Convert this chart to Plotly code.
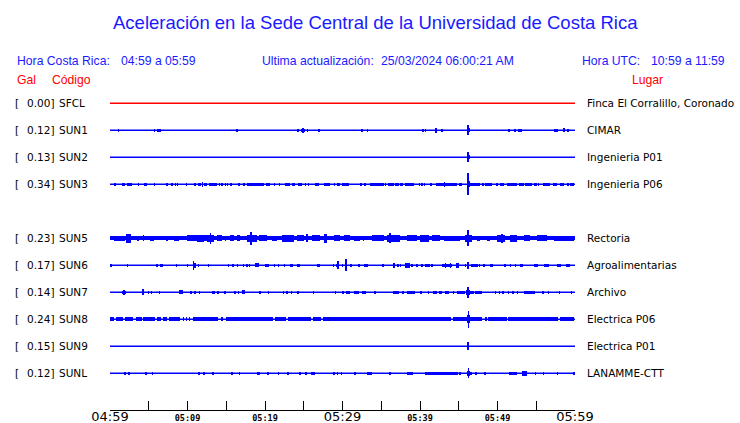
import plotly.graph_objects as go

# ---------------- data ----------------
CODES = ["SFCL", "SUN1", "SUN2", "SUN3", "SUN5", "SUN6", "SUN7", "SUN8", "SUN9", "SUNL"]
GAL = [0.00, 0.12, 0.13, 0.34, 0.23, 0.17, 0.14, 0.24, 0.15, 0.12]
PLACES = ["Finca El Corralillo, Coronado", "CIMAR", "Ingenieria P01", "Ingenieria P06",
          "Rectoria", "Agroalimentarias", "Archivo", "Electrica P06", "Electrica P01",
          "LANAMME-CTT"]
MISSING_AFTER = "SUN3"   # SUN4 slot is empty

TICK_TIMES = ["04:59", "05:04", "05:09", "05:14", "05:19", "05:24", "05:29",
              "05:34", "05:39", "05:44", "05:49", "05:54", "05:59"]
BIG_LABELS = ["04:59", "05:29", "05:59"]
SMALL_LABELS = ["05:09", "05:19", "05:39", "05:49"]

# bursts: (start minute, end minute, half amplitude) - minutes after 04:59
SFCL_BURSTS = []
SUN1_BURSTS = [(1.12, 1.12, 1.5), (5.76, 5.76, 1.5), (6.05, 6.55, 1.6), (16.4, 16.4, 1.5),
               (24.1, 24.35, 1.3), (24.7, 25.1, 1.6), (24.9, 24.9, 2.5), (25.5, 25.5, 1.5),
               (27.0, 27.0, 1.5), (32.4, 32.7, 1.5), (33.2, 33.2, 1.5), (40.4, 40.4, 1.5),
               (40.7, 40.7, 1.5), (42.1, 42.1, 2.5), (42.0, 42.2, 1.3), (42.7, 42.9, 1.5),
               (46.2, 46.2, 5.0), (46.1, 46.5, 2.0), (51.5, 51.5, 1.3), (52.2, 52.35, 1.3),
               (52.7, 53.15, 1.6), (57.4, 57.4, 1.3), (57.7, 57.7, 1.3), (58.4, 58.65, 2.0),
               (59.1, 59.1, 1.5)]
SUN2_BURSTS = [(46.2, 46.2, 5.0), (46.1, 46.45, 2.0)]
SUN3_BURSTS = [(0.47, 0.73, 1.3), (1.55, 1.98, 1.5), (2.19, 2.62, 1.5), (2.71, 2.71, 1.3),
               (3.70, 3.70, 1.2), (4.34, 4.77, 1.5), (5.76, 5.76, 1.3), (7.35, 7.35, 1.2),
               (7.91, 8.09, 1.5), (8.43, 8.43, 1.2), (8.73, 8.73, 1.2), (9.85, 9.85, 1.2),
               (10.88, 11.14, 1.5), (11.31, 11.74, 1.5), (11.96, 11.96, 2.7), (12.17, 12.52, 1.5),
               (12.73, 13.81, 1.6), (14.15, 14.15, 1.3), (14.45, 14.45, 1.3), (14.92, 14.92, 1.3),
               (15.18, 15.18, 1.3), (15.44, 15.74, 1.5), (16.52, 16.82, 1.5), (17.16, 17.38, 1.5),
               (17.68, 19.83, 1.6), (20.17, 20.60, 1.5), (21.25, 21.25, 1.3), (21.89, 21.89, 1.2),
               (22.62, 23.27, 1.5), (23.48, 23.91, 1.5), (24.22, 24.77, 1.5), (25.20, 25.20, 1.3),
               (25.63, 25.63, 1.3), (26.49, 26.92, 1.5), (27.66, 28.43, 1.6), (28.86, 29.03, 1.5),
               (29.29, 29.72, 1.5), (29.94, 30.88, 1.6), (32.30, 32.56, 1.5), (32.82, 33.08, 1.5),
               (33.59, 35.31, 1.6), (35.53, 35.53, 1.3), (35.87, 36.60, 1.6), (36.82, 37.25, 1.5),
               (37.46, 37.81, 1.5), (38.02, 39.18, 1.6), (39.96, 39.96, 1.3), (40.26, 40.26, 1.3),
               (40.60, 40.60, 1.3), (41.25, 41.55, 1.5), (42.06, 43.05, 1.6), (43.14, 43.14, 2.5),
               (43.27, 44.77, 1.6), (44.99, 45.42, 1.5), (46.19, 46.19, 11.0), (46.05, 46.40, 3.0),
               (46.49, 47.78, 1.6), (48.13, 48.13, 1.3), (48.43, 49.29, 1.5), (49.94, 49.94, 1.3),
               (50.37, 50.80, 1.5), (51.23, 52.52, 1.6), (52.73, 53.38, 1.5), (53.59, 54.45, 1.6),
               (54.67, 55.10, 1.5), (55.31, 55.31, 1.3), (55.87, 56.82, 1.6), (57.16, 57.68, 1.5),
               (58.11, 58.62, 1.6), (58.97, 59.18, 1.5), (59.40, 59.83, 1.6)]
SUN5_BURSTS = [(0.0, 60.0, 2.0), (0.47, 1.98, 2.6), (2.11, 2.71, 4.5), (3.48, 3.70, 2.6),
               (4.34, 4.34, 3.0), (5.20, 5.63, 2.6), (7.35, 7.35, 2.4), (8.22, 8.86, 2.6),
               (9.94, 12.52, 2.9), (11.23, 12.09, 3.4), (12.52, 13.38, 3.6), (12.95, 12.95, 5.5),
               (13.81, 14.45, 2.9), (14.88, 14.88, 2.6), (15.53, 15.96, 2.9), (16.39, 16.82, 2.9),
               (17.68, 18.97, 3.6), (18.19, 18.19, 6.5), (19.18, 20.26, 2.9), (20.90, 21.55, 2.6),
               (22.19, 23.70, 3.3), (24.13, 24.99, 2.9), (25.42, 25.42, 4.0), (26.06, 27.14, 2.9),
               (27.57, 28.00, 4.2), (28.86, 29.72, 2.9), (30.24, 31.01, 2.9), (31.44, 32.30, 2.6),
               (32.73, 32.73, 2.6), (33.81, 35.31, 2.9), (35.74, 37.46, 3.3), (36.09, 36.09, 5.0),
               (38.32, 39.61, 2.9), (40.04, 41.12, 3.3), (41.55, 42.62, 2.9), (43.05, 45.20, 2.8),
               (45.85, 46.71, 3.3), (46.19, 46.19, 8.0), (47.35, 47.78, 2.6), (48.65, 49.08, 2.6),
               (49.94, 51.01, 3.3), (50.58, 50.58, 4.5), (51.66, 52.52, 3.3), (53.38, 54.24, 2.9),
               (55.10, 56.39, 2.9), (57.25, 59.83, 2.8)]
SUN6_BURSTS = [(0.13, 0.13, 1.3), (2.28, 2.28, 1.5), (5.94, 6.15, 1.6), (6.49, 6.84, 1.6),
               (8.56, 8.56, 1.3), (10.02, 10.02, 1.3), (10.71, 11.14, 2.2), (10.75, 10.75, 4.3),
               (11.44, 11.44, 1.3), (12.73, 12.73, 1.3), (15.31, 15.31, 1.3), (15.87, 15.87, 1.3),
               (16.47, 16.47, 1.5), (17.25, 17.25, 1.3), (17.68, 17.68, 1.3), (18.02, 18.02, 1.5),
               (18.67, 19.18, 2.0), (20.04, 20.47, 1.6), (21.25, 21.25, 1.3), (21.76, 21.76, 1.3),
               (22.54, 22.54, 1.3), (23.27, 23.57, 1.5), (24.13, 24.47, 1.6), (26.71, 27.14, 1.6),
               (28.86, 28.86, 1.3), (29.12, 29.38, 1.6), (29.38, 29.38, 4.0), (30.02, 30.02, 1.3),
               (30.45, 30.45, 6.0), (31.01, 31.27, 1.6), (32.09, 32.09, 1.3), (32.82, 33.33, 1.6),
               (35.23, 35.23, 1.3), (36.52, 36.82, 2.2), (36.60, 36.60, 2.8), (37.16, 37.16, 1.3),
               (37.46, 37.46, 1.3), (38.11, 38.75, 2.5), (38.97, 38.97, 1.3), (39.61, 39.61, 1.3),
               (40.26, 40.26, 1.3), (40.69, 41.25, 1.6), (41.55, 41.55, 1.3), (42.84, 44.13, 1.6),
               (43.27, 43.27, 2.5), (43.91, 43.91, 2.2), (44.69, 44.99, 2.5), (45.85, 45.85, 1.3),
               (46.19, 46.19, 3.5), (46.06, 46.35, 2.0), (46.54, 47.44, 1.6), (47.70, 47.70, 1.3),
               (48.22, 48.22, 1.3), (49.08, 49.42, 1.6), (50.80, 51.05, 1.6), (51.66, 51.66, 1.3),
               (52.30, 52.30, 1.3), (52.86, 53.29, 1.6), (54.67, 55.18, 1.6), (55.96, 56.60, 1.6),
               (57.68, 58.19, 1.5), (58.88, 59.31, 1.6)]
SUN7_BURSTS = [(1.55, 2.06, 1.6), (1.80, 1.80, 2.5), (4.26, 4.26, 3.0), (4.99, 4.99, 1.5),
               (5.33, 5.33, 1.5), (6.37, 6.37, 1.3), (8.95, 9.42, 2.0), (10.28, 10.62, 1.6),
               (10.88, 11.14, 1.6), (11.57, 11.57, 1.3), (13.16, 13.59, 1.6), (13.94, 13.94, 1.5),
               (14.67, 15.01, 1.6), (16.09, 16.09, 1.3), (16.60, 16.60, 1.3), (17.03, 17.46, 2.0),
               (19.18, 19.48, 1.6), (20.47, 20.47, 1.3), (22.41, 22.41, 1.3), (22.84, 22.84, 1.3),
               (23.40, 23.40, 1.5), (24.22, 24.22, 1.5), (26.28, 26.28, 1.3), (29.08, 29.08, 1.5),
               (29.94, 30.24, 1.6), (30.49, 30.92, 1.6), (31.44, 32.13, 1.6), (32.56, 32.99, 1.6),
               (34.02, 34.37, 1.5), (36.52, 37.25, 1.6), (37.68, 37.98, 1.6), (38.32, 39.40, 1.6),
               (40.04, 40.30, 1.6), (41.12, 41.12, 1.3), (41.68, 42.19, 1.6), (42.41, 42.84, 1.6),
               (43.27, 43.70, 1.6), (44.34, 44.34, 1.3), (44.77, 45.85, 1.6), (46.19, 46.19, 5.5),
               (45.98, 46.49, 2.2), (46.49, 46.92, 1.6), (47.14, 48.00, 1.6), (49.72, 49.72, 1.3),
               (50.15, 50.37, 1.5), (50.58, 50.88, 1.5), (51.44, 51.44, 1.3), (52.00, 52.00, 1.3),
               (52.60, 52.60, 1.3), (53.38, 54.88, 1.6), (55.74, 55.96, 1.5), (56.60, 56.60, 1.3),
               (57.89, 58.11, 1.5), (59.53, 59.53, 1.3)]
SUN8_BURSTS = [(0.0, 0.55, 1.9), (0.77, 1.72, 1.9), (1.94, 3.01, 1.9), (3.35, 4.09, 1.9),
               (4.30, 5.81, 1.9), (6.03, 6.54, 1.9), (6.80, 7.39, 1.9), (7.65, 9.03, 1.9),
               (9.38, 9.55, 1.9), (9.81, 9.97, 1.9), (10.23, 10.32, 1.9), (10.67, 13.97, 1.9),
               (14.28, 14.62, 1.9), (14.97, 20.99, 1.9), (21.29, 22.71, 1.9), (22.93, 25.90, 1.9),
               (26.15, 27.19, 1.9), (27.44, 43.96, 1.9), (44.30, 46.02, 1.9), (46.24, 46.24, 8.5),
               (46.05, 46.45, 4.0), (46.45, 47.96, 2.1), (48.39, 48.60, 1.9), (48.81, 51.18, 1.9),
               (51.39, 57.84, 1.9), (58.06, 59.87, 1.9)]
SUN9_BURSTS = [(46.2, 46.2, 4.0), (46.1, 46.35, 2.0)]
SUNL_BURSTS = [(1.94, 1.94, 1.3), (2.30, 2.55, 1.8), (4.65, 4.65, 1.3), (5.46, 5.46, 1.3),
               (11.52, 11.52, 1.3), (12.00, 12.25, 1.5), (13.10, 13.40, 1.8), (15.78, 15.78, 1.3),
               (16.69, 16.69, 1.3), (18.95, 19.35, 1.6), (20.20, 20.50, 1.8), (21.76, 21.76, 1.3),
               (23.00, 23.00, 1.3), (24.40, 24.65, 1.6), (25.15, 25.45, 1.6), (25.90, 26.45, 1.6),
               (28.85, 28.95, 1.5), (29.37, 29.37, 1.3), (29.75, 29.95, 1.5), (31.61, 31.61, 1.3),
               (33.10, 33.80, 1.5), (36.13, 36.13, 1.3), (38.36, 39.05, 1.6), (40.65, 44.95, 1.6),
               (45.16, 45.16, 1.3), (46.24, 46.24, 5.0), (46.00, 46.50, 2.2), (46.45, 46.67, 1.6),
               (47.23, 47.23, 1.3), (48.39, 48.39, 1.3), (51.52, 52.47, 1.6), (53.12, 53.76, 2.3),
               (54.92, 54.92, 1.3), (55.91, 55.91, 1.3), (57.76, 57.76, 1.3), (59.87, 59.87, 1.3)]

BURSTS = {"SFCL": SFCL_BURSTS, "SUN1": SUN1_BURSTS, "SUN2": SUN2_BURSTS, "SUN3": SUN3_BURSTS,
          "SUN5": SUN5_BURSTS, "SUN6": SUN6_BURSTS, "SUN7": SUN7_BURSTS, "SUN8": SUN8_BURSTS,
          "SUN9": SUN9_BURSTS, "SUNL": SUNL_BURSTS}

# ---------------- layout constants ----------------
FIG_W, FIG_H = 740, 423
L, R = 110, 575           # plot area x pixels
T, B = 90, 410            # plot area y pixels
ROW0_PX, ROW_STEP_PX = 103.3, 27.0
GAIN = 1.0 / ROW_STEP_PX  # amplitude units -> row units
MIN_W_PX = 1.6
BLUE = "#0000ff"
RED = "#ff0000"
TXT_BLUE = "#1a1aff"


def tmin(s):
    h, m = s.split(":")
    h0, m0 = TICK_TIMES[0].split(":")
    return (int(h) * 60 + int(m)) - (int(h0) * 60 + int(m0))


T_END = tmin(TICK_TIMES[-1])
min_w = MIN_W_PX * T_END / (R - L)

# row slots
slots = []
gap = 0
for c in CODES:
    slots.append(len(slots) + gap)
    if c == MISSING_AFTER:
        gap = 1

fig = go.Figure()

for code, slot in zip(CODES, slots):
    color = RED if code == "SFCL" else BLUE
    fig.add_trace(go.Scatter(x=[0, T_END], y=[slot, slot], mode="lines",
                             line=dict(color=color, width=1.4), hoverinfo="skip",
                             showlegend=False))
    b = BURSTS[code]
    if b:
        xs = [(t0 + t1) / 2 for t0, t1, a in b]
        ws = [max(t1 - t0, min_w) for t0, t1, a in b]
        base = [slot - a * GAIN for t0, t1, a in b]
        hs = [2 * a * GAIN for t0, t1, a in b]
        fig.add_trace(go.Bar(x=xs, y=hs, base=base, width=ws, marker=dict(color=color, line=dict(width=0)),
                             hoverinfo="skip", showlegend=False))

# y range from pixel geometry
y_top = (T - ROW0_PX) / ROW_STEP_PX
y_bot = (B - ROW0_PX) / ROW_STEP_PX


def px_x(px):
    return (px - L) / (R - L)


def px_y(py):
    return (B - py) / (B - T)


def ann(text, px, py, size, color, family, anchor="left"):
    fig.add_annotation(x=px_x(px), y=px_y(py), xref="paper", yref="paper", text=text,
                       showarrow=False, xanchor=anchor, yanchor="middle",
                       font=dict(size=size, color=color, family=family))


HEAD = "Liberation Sans, Arial, sans-serif"
LAB = "DejaVu Sans, sans-serif"

ann("Aceleración en la Sede Central de la Universidad de Costa Rica", 375, 22, 18.5, TXT_BLUE, HEAD, "center")
ann("Hora Costa Rica:", 15, 61, 12.2, TXT_BLUE, HEAD)
ann("04:59 a 05:59", 119, 61, 12.2, TXT_BLUE, HEAD)
ann("Ultima actualización:", 260, 61, 12.2, TXT_BLUE, HEAD)
ann("25/03/2024 06:00:21 AM", 379, 61, 12.2, TXT_BLUE, HEAD)
ann("Hora UTC:", 580, 61, 12.2, TXT_BLUE, HEAD)
ann("10:59 a 11:59", 649, 61, 12.2, TXT_BLUE, HEAD)
ann("Gal", 15, 80, 12.2, RED, HEAD)
ann("Código", 50, 80, 12.2, RED, HEAD)
ann("Lugar", 630, 80, 12.2, RED, HEAD)

for code, g, place, slot in zip(CODES, GAL, PLACES, slots):
    py = ROW0_PX + slot * ROW_STEP_PX
    ann("[", 13, py, 10.5, "black", LAB)
    ann(f"{g:.2f}]", 56, py, 10.5, "black", LAB, "right")
    ann(code, 56.5, py, 10.5, "black", LAB)
    ann(place, 585, py, 10.5, "black", LAB)

tickvals = [tmin(s) for s in TICK_TIMES]
ticktext = []
for s in TICK_TIMES:
    if s in BIG_LABELS:
        ticktext.append(s)
    elif s in SMALL_LABELS:
        ticktext.append(f"<span style='font-size:8.5px;font-family:DejaVu Sans Mono;font-weight:bold'>{s}</span>")
    else:
        ticktext.append("")

fig.update_layout(
    width=FIG_W, height=FIG_H,
    margin=dict(l=L, r=FIG_W - R, t=T, b=FIG_H - B, pad=0),
    paper_bgcolor="white", plot_bgcolor="white",
    barmode="overlay", bargap=0,
    showlegend=False,
    xaxis=dict(range=[0, T_END], showgrid=False, zeroline=False, showline=True,
               linecolor="black", linewidth=1, ticks="inside", ticklen=9, tickwidth=1,
               tickcolor="black", tickvals=tickvals, ticktext=ticktext, automargin=False,
               ticklabelstandoff=-6,
               tickfont=dict(family="DejaVu Sans", size=13, color="black"), fixedrange=True),
    yaxis=dict(range=[y_bot, y_top], visible=False, showgrid=False, zeroline=False,
               automargin=False, fixedrange=True),
)

fig.write_html("out.html", config={"displayModeBar": False, "staticPlot": True},
               post_script="document.body.style.margin='0';")
